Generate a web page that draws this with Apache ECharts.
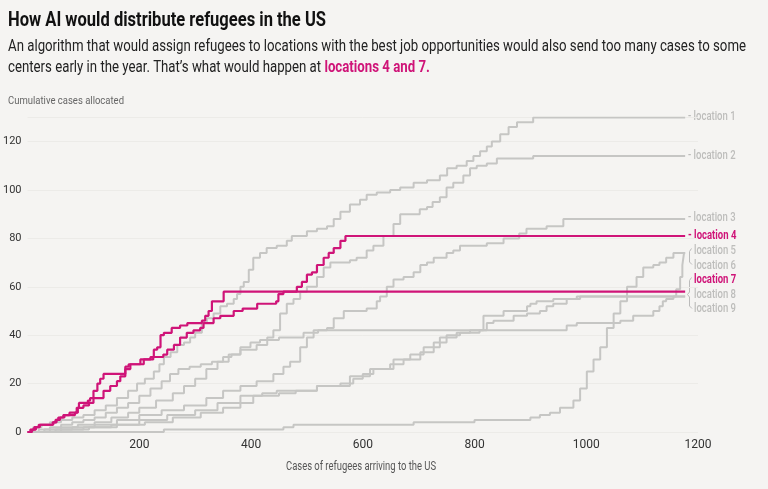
<!DOCTYPE html>
<html><head><meta charset="utf-8">
<script src="https://cdn.jsdelivr.net/npm/echarts@6/dist/echarts.min.js"></script>
<style>html,body{margin:0;padding:0;background:#f5f4f2;}#c{width:768px;height:489px;}</style>
</head><body><div id="c"></div>
<script>
const loc1 = [[0,0],[10,2],[25,3],[40,4],[60,5],[80,6],[100,7],[120,9],[140,11],[160,14],[180,17],[196,20],[210,22],[226,25],[236,28],[244,31],[256,33],[268,36],[280,37],[291,39],[300,41],[312,45],[321,47],[333,49],[345,52],[357,53],[369,55],[375,57],[381,60],[387,62],[396,67],[404,72],[416,74],[428,76],[446,77],[464,79],[473,81],[500,83],[518,84],[536,85],[548,88],[560,91],[577,94],[595,96],[607,98],[625,99],[649,100],[667,101],[691,103],[715,104],[738,106],[751,109],[768,110],[786,112],[798,114],[810,116],[822,118],[831,120],[846,123],[861,126],[876,128],[905,130],[1177,130]];
const loc2 = [[0,0],[20,1],[40,2],[60,3],[80,4],[100,5],[120,6],[140,8],[160,10],[180,12],[200,15],[220,18],[240,21],[255,24],[270,26],[290,27],[310,28],[330,29],[350,31],[365,32],[381,34],[410,36],[429,39],[440,42],[452,49],[464,53],[476,55],[488,58],[500,60],[518,64],[530,68],[542,70],[577,71],[589,72],[607,75],[619,77],[637,81],[655,86],[667,90],[702,92],[715,93],[725,95],[738,97],[750,101],[762,103],[780,106],[792,109],[804,110],[822,111],[840,113],[905,114],[1177,114]];
const loc3 = [[0,0],[40,1],[80,2],[120,3],[160,5],[200,7],[240,9],[280,11],[320,14],[350,17],[381,19],[410,21],[440,24],[458,27],[470,29],[488,35],[500,39],[512,42],[536,43],[548,47],[566,50],[607,51],[625,54],[631,56],[643,60],[655,63],[673,64],[691,66],[703,69],[715,70],[727,72],[750,74],[762,75],[774,77],[822,78],[852,80],[880,82],[893,84],[929,85],[959,88],[1177,88]];
const loc4 = [[0,0],[8,1],[15,2],[22,3],[46,4],[52,5],[58,6],[66,7],[85,8],[90,10],[100,11],[110,12],[118,14],[136,17],[148,19],[160,21],[166,23],[175,27],[181,28],[202,30],[225,31],[243,32],[250,34],[262,36],[273,39],[285,41],[297,42],[309,43],[315,45],[333,47],[345,48],[369,50],[385,51],[411,53],[445,54],[449,57],[458,58],[482,60],[491,62],[500,65],[509,66],[518,69],[530,72],[539,74],[548,76],[560,79],[569,81],[1177,81]];
const loc5 = [[0,0],[244,1],[458,2],[476,3],[691,4],[800,5],[900,6],[917,7],[935,8],[953,10],[977,13],[989,18],[1001,25],[1013,30],[1025,35],[1037,43],[1049,49],[1061,54],[1073,60],[1090,64],[1102,68],[1120,69],[1131,70],[1143,72],[1156,74],[1177,74]];
const loc6 = [[0,0],[30,1],[60,2],[90,3],[120,4],[150,6],[180,8],[200,10],[230,13],[260,16],[280,19],[300,22],[320,26],[340,29],[360,32],[381,35],[399,37],[416,38],[450,39],[494,41],[520,42],[965,44],[983,45],[1061,46],[1084,48],[1120,50],[1131,52],[1137,54],[1143,55],[1156,56],[1161,59],[1168,64],[1172,69],[1175,74],[1177,74]];
const loc7 = [[0,0],[5,1],[12,2],[20,3],[45,4],[50,5],[55,6],[64,7],[75,8],[88,10],[92,12],[108,13],[112,14],[118,17],[125,20],[130,22],[136,24],[175,26],[184,28],[208,30],[220,31],[226,34],[232,35],[238,40],[244,41],[258,43],[273,44],[286,45],[312,46],[318,48],[324,50],[330,54],[351,58],[1177,58]];
const loc8 = [[0,0],[50,1],[100,2],[150,3],[200,5],[250,7],[300,9],[340,12],[381,15],[420,16],[446,17],[518,19],[560,20],[583,22],[600,24],[619,26],[649,28],[673,30],[703,33],[727,37],[750,40],[774,41],[792,42],[816,48],[852,50],[894,52],[900,53],[911,54],[941,55],[983,56],[1177,56]];
const loc9 = [[0,0],[60,1],[110,2],[160,3],[210,4],[260,6],[310,8],[350,10],[381,12],[404,15],[450,16],[480,17],[518,19],[577,23],[613,26],[655,30],[685,32],[709,35],[738,39],[768,41],[809,42],[822,45],[834,46],[870,48],[894,49],[917,50],[929,52],[941,53],[965,55],[989,56],[1177,56]];

const names = ['location 1','location 2','location 3','location 4','location 5','location 6','location 7','location 8','location 9'];
const seriesData = [loc1,loc2,loc3,loc4,loc5,loc6,loc7,loc8,loc9];
const highlighted = ['location 4','location 7'];
const xTicks = [200,400,600,800,1000,1200];
const yTicks = [0,20,40,60,80,100,120];

const PINK = '#cf1478', GRAY = '#c6c6c4', LABELGRAY = '#bdbdbb';
const cvs = document.createElement('canvas').getContext('2d');
function w(text, font){ cvs.font = font; return cvs.measureText(text).width; }

const FT = 'Roboto, "Noto Sans", sans-serif';
const titleText = 'How AI would distribute refugees in the US';
const sub1 = 'An algorithm that would assign refugees to locations with the best job opportunities would also send too many cases to some';
const sub2a = 'centers early in the year. That\u2019s what would happen at ';
const sub2b = 'locations 4 and 7.';
const titleFont = 'bold 20px ' + FT;
const subFont = '16px ' + FT;
const subBold = 'bold 16px ' + FT;
const tScale = 318 / w(titleText, titleFont);
const sScale = 738 / w(sub1, subFont);
const sub2aW = w(sub2a, subFont) * sScale;

const chart = echarts.init(document.getElementById('c'));

const series = seriesData.map((d, i) => {
  const hl = highlighted.includes(names[i]);
  return {
    name: names[i], type: 'line', step: 'end', data: d, symbol: 'none',
    lineStyle: { color: hl ? PINK : GRAY, width: hl ? 2.2 : 2 },
    z: hl ? 5 : 2, silent: true, animation: false
  };
});

const labelFont = '12px ' + FT;
const lScale = 42 / w('location 3', '500 12px ' + FT);
const labelY = { 'location 1':117, 'location 2':156, 'location 3':218, 'location 4':236, 'location 5':251, 'location 6':266, 'location 7':280, 'location 8':294.5, 'location 9':308.5 };
const labelEls = names.map(n => {
  const hl = highlighted.includes(n);
  const showDash = ['location 1','location 2','location 3','location 4'].includes(n);
  return {
    type: 'text', x: showDash ? 688 : 694, y: labelY[n], scaleX: lScale, silent: true,
    style: { text: (showDash ? '- ' : '') + n, fill: hl ? PINK : LABELGRAY,
      font: (hl ? 'bold ' : '500 ') + '12px ' + FT, textAlign: 'left', textVerticalAlign: 'middle' }
  };
});

const graphics = [
  { type:'text', x:8, y:21, scaleX:tScale, silent:true,
    style:{ text:titleText, font:titleFont, fill:'#111', textAlign:'left', textVerticalAlign:'middle' } },
  { type:'text', x:8, y:47, scaleX:sScale, silent:true,
    style:{ text:sub1, font:subFont, fill:'#222', textAlign:'left', textVerticalAlign:'middle' } },
  { type:'text', x:8, y:68, scaleX:sScale, silent:true,
    style:{ text:sub2a, font:subFont, fill:'#222', textAlign:'left', textVerticalAlign:'middle' } },
  { type:'text', x:8 + sub2aW, y:68, scaleX:sScale, silent:true,
    style:{ text:sub2b, font:subBold, fill:PINK, textAlign:'left', textVerticalAlign:'middle' } },
  { type:'text', x:8, y:101, scaleX: 116 / w('Cumulative cases allocated', '11px ' + FT), silent:true,
    style:{ text:'Cumulative cases allocated', font:'11px ' + FT, fill:'#666', textAlign:'left', textVerticalAlign:'middle' } },
  { type:'text', x:361, y:467, scaleX: 150 / w('Cases of refugees arriving to the US', '12px ' + FT), silent:true,
    style:{ text:'Cases of refugees arriving to the US', font:'12px ' + FT, fill:'#555', textAlign:'center', textVerticalAlign:'middle' } },
  { type:'polyline', silent:true, shape:{ points:[[691.5,248.5],[689.5,251.5],[689.5,262],[692,264.5]] }, style:{ stroke:'#bbb', lineWidth:1, fill:null } },
  { type:'polyline', silent:true, shape:{ points:[[691.5,277.5],[689.5,280.5],[689.5,292],[687.5,294.5],[689.5,297],[689.5,306],[692,308.5]] }, style:{ stroke:'#bbb', lineWidth:1, fill:null } }
].concat(labelEls);

chart.setOption({
  backgroundColor: '#f5f4f2',
  animation: false,
  grid: { left: 27.2, right: 70, top: 117.4, bottom: 57, containLabel: false },
  xAxis: {
    type: 'value', min: 0, max: 1200, interval: 200,
    axisLine: { show: false }, axisTick: { show: false }, splitLine: { show: false },
    axisLabel: { showMinLabel: false, color: '#333', fontSize: 12, fontFamily: FT, margin: 7,
      formatter: v => xTicks.includes(v) ? String(v) : '' }
  },
  yAxis: {
    type: 'value', min: 0, max: 130, interval: 20,
    axisLine: { show: false }, axisTick: { show: false },
    splitLine: { show: true, lineStyle: { color: '#ecebe8', width: 1 } },
    axisLabel: { showMaxLabel: false, color: '#333', fontSize: 11, fontFamily: FT, margin: 6,
      formatter: v => yTicks.includes(v) ? String(v) : '' }
  },
  series: series,
  graphic: graphics
});
</script></body></html>
